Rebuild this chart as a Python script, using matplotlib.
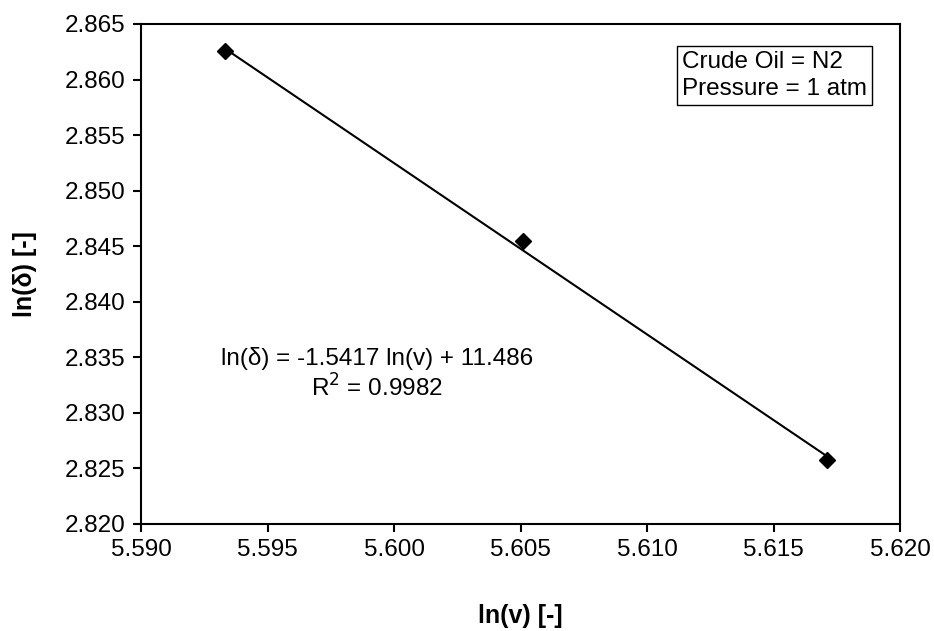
import numpy as np
import matplotlib.pyplot as plt

plt.rcParams['font.family'] = ['Liberation Sans', 'DejaVu Sans']

ln_v = [5.5933, 5.6051, 5.6171]
ln_delta = [2.8626, 2.8455, 2.8258]
slope = -1.5417
intercept = 11.486
r2 = 0.9982

fig = plt.figure(figsize=(9.34, 6.31), dpi=100)
ax = fig.add_axes([0.151, 0.1696, 0.8126, 0.7924])

xf = np.array([min(ln_v), max(ln_v)])
ax.plot(xf, slope * xf + intercept, color='k', lw=1.5)
ax.plot(ln_v, ln_delta, 'D', color='k', ms=8, ls='none')

ax.set_xlim(5.590, 5.620)
ax.set_ylim(2.820, 2.865)
ax.set_xticks(np.arange(5.590, 5.6201, 0.005))
ax.set_yticks(np.arange(2.820, 2.8651, 0.005))
ax.xaxis.set_major_formatter(plt.FormatStrFormatter('%.3f'))
ax.yaxis.set_major_formatter(plt.FormatStrFormatter('%.3f'))
ax.tick_params(direction='out', length=6, width=1.5, labelsize=17.5, pad=5)
for s in ax.spines.values():
    s.set_linewidth(1.5)

ax.set_xlabel('ln(v) [-]', fontsize=18, fontweight='bold')
ax.xaxis.set_label_coords(0.5, -0.16)
ax.set_ylabel('ln(δ) [-]', fontsize=18, fontweight='bold')
ax.yaxis.set_label_coords(-0.137, 0.5)

ax.text(0.311, 0.30, 'ln(δ) = %.4f ln(v) + %.3f\nR$^2$ = %.4f' % (slope, intercept, r2),
        transform=ax.transAxes, fontsize=17.5, ha='center', va='center',
        multialignment='center', linespacing=1.2)

ax.text(0.9565, 0.946, 'Crude Oil = N2\nPressure = 1 atm', transform=ax.transAxes,
        fontsize=17.5, ha='right', va='top', multialignment='left', linespacing=1.3,
        bbox=dict(boxstyle='square,pad=0.22', fc='white', ec='k', lw=1))

fig.savefig('out.png', dpi=100)
